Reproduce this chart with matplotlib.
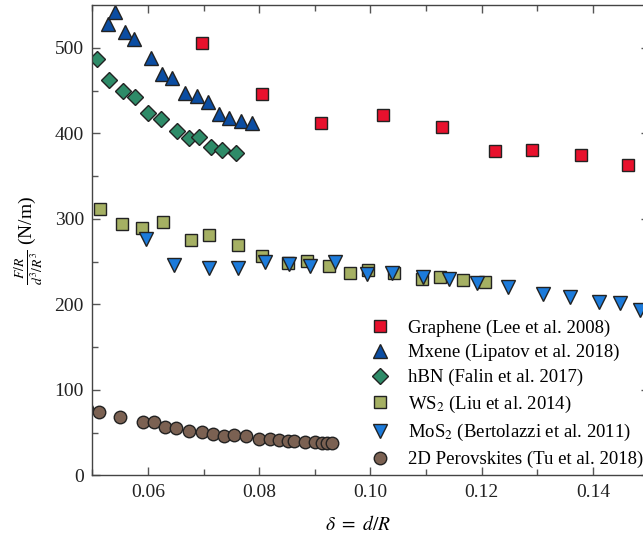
import matplotlib.pyplot as plt

plt.rcParams['font.family'] = 'Liberation Serif'
plt.rcParams['mathtext.fontset'] = 'stix'

# =============================================================================
# DATA (delta = d/R, F/R / (d^3/R^3) in N/m)
# =============================================================================
graphene_x = [0.0698, 0.0805, 0.0911, 0.1023, 0.1128, 0.1224, 0.1291, 0.1378, 0.1462]
graphene_y = [506, 446, 412, 421, 407, 379, 381, 375, 363]

mxene_x = [0.0529, 0.0540, 0.0559, 0.0575, 0.0605, 0.0625, 0.0643, 0.0667,
           0.0688, 0.0708, 0.0728, 0.0746, 0.0767, 0.0787]
mxene_y = [528, 542, 519, 510, 488, 469, 465, 447, 444, 437, 423, 418, 414, 412]

hbn_x = [0.0509, 0.0530, 0.0555, 0.0577, 0.0600, 0.0624, 0.0653, 0.0673,
         0.0691, 0.0714, 0.0734, 0.0758]
hbn_y = [487, 462, 450, 442, 424, 417, 403, 395, 396, 384, 380, 377]

ws2_x = [0.0513, 0.0553, 0.0590, 0.0628, 0.0677, 0.0709, 0.0761, 0.0805,
         0.0851, 0.0885, 0.0926, 0.0964, 0.0995, 0.1042, 0.1092, 0.1125,
         0.1167, 0.1206]
ws2_y = [311, 294, 289, 296, 275, 281, 269, 256, 248, 251, 245, 236, 240,
         236, 230, 232, 228, 226]

mos2_x = [0.0597, 0.0646, 0.0709, 0.0761, 0.0811, 0.0854, 0.0891, 0.0936,
          0.0993, 0.1038, 0.1094, 0.1141, 0.1191, 0.1248, 0.1310, 0.1358,
          0.1411, 0.1448, 0.1484]
mos2_y = [276, 246, 243, 243, 250, 247, 245, 249, 235, 236, 232, 230, 225,
          220, 212, 208, 203, 202, 193]

perov_x = [0.0491, 0.0512, 0.0549, 0.0591, 0.0611, 0.0630, 0.0651, 0.0674,
           0.0697, 0.0717, 0.0737, 0.0754, 0.0777, 0.0800, 0.0820, 0.0836,
           0.0852, 0.0863, 0.0883, 0.0901, 0.0913, 0.0921, 0.0931]
perov_y = [78, 74, 68, 62, 62, 56.5, 55, 52, 50.6, 48, 45.6, 46.8, 45.6, 43,
           42.5, 41.6, 40, 40.5, 39.3, 39, 38, 38, 38]

series = [
    (graphene_x, graphene_y, 's', '#E8112D', 8, "Graphene (Lee et al. 2008)"),
    (mxene_x, mxene_y, '^', '#0B4DA2', 10, "Mxene (Lipatov et al. 2018)"),
    (hbn_x, hbn_y, 'D', '#2E8B68', 8, "hBN (Falin et al. 2017)"),
    (ws2_x, ws2_y, 's', '#A5B063', 8, r"WS$_2$ (Liu et al. 2014)"),
    (mos2_x, mos2_y, 'v', '#1C7BDB', 10, r"MoS$_2$ (Bertolazzi et al. 2011)"),
    (perov_x, perov_y, 'o', '#7B6152', 9, "2D Perovskites (Tu et al. 2018)"),
]

# =============================================================================
# PLOTTING
# =============================================================================
fig = plt.figure(figsize=(6.43, 5.37), dpi=100)
ax = fig.add_axes([0.1435, 0.1149, 0.8654, 0.8758])

for x, y, m, c, ms, label in series:
    ax.plot(x, y, linestyle='none', marker=m, markersize=ms, color=c,
            markeredgecolor='#222222', markeredgewidth=1.0, label=label)

ax.set_xlim(0.05, 0.15)
ax.set_ylim(0, 550)
ax.set_xticks([0.06, 0.08, 0.10, 0.12, 0.14])
ax.set_xticks([0.05, 0.07, 0.09, 0.11, 0.13, 0.15], minor=True)
ax.set_xticklabels(['0.06', '0.08', '0.10', '0.12', '0.14'])
ax.set_yticks([0, 100, 200, 300, 400, 500])
ax.set_yticks([50, 150, 250, 350, 450], minor=True)

ax.tick_params(which='both', direction='in', top=True, right=True,
               labelsize=14, color='#555555', labelcolor='#222222', pad=6)
ax.tick_params(which='major', length=6, width=1)
ax.tick_params(which='minor', length=4, width=1)
for s in ax.spines.values():
    s.set_color('#444444')
    s.set_linewidth(1)

ax.set_xlabel(r'$\delta\ =\ d/R$', fontsize=14, labelpad=8)
ax.xaxis.set_label_coords(0.477, -0.085)
ax.set_ylabel(r'$\frac{F/R}{d^3/R^3}$ (N/m)', fontsize=14, labelpad=6)

ax.legend(loc='lower left', bbox_to_anchor=(0.5, 0.015), frameon=False,
          fontsize=13.5, handlelength=1.0, handletextpad=1.0,
          borderpad=0, borderaxespad=0, labelspacing=0.4)

plt.savefig('out.png', dpi=100)
